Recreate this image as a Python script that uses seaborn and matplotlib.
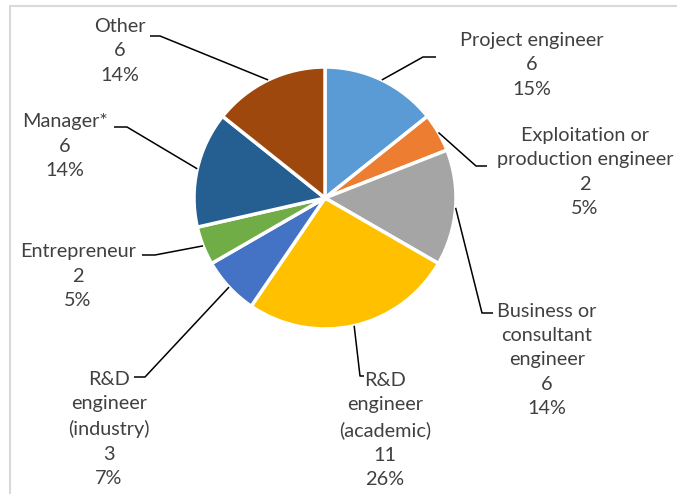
import numpy as np
import matplotlib; matplotlib.use('Agg')
import matplotlib.pyplot as plt
import seaborn as sns

W, H = 677, 494

# data (clockwise from 12 o'clock)
categories = ["Project engineer", "Exploitation or\nproduction engineer", "Business or\nconsultant\nengineer",
              "R&D\nengineer\n(academic)", "R&D\nengineer\n(industry)", "Entrepreneur", "Manager*", "Other"]
counts = [6, 2, 6, 11, 3, 2, 6, 6]
pct_labels = ["15%", "5%", "14%", "26%", "7%", "5%", "14%", "14%"]
colors = ["#5B9BD5", "#ED7D31", "#A5A5A5", "#FFC000", "#4472C4", "#70AD47", "#255E91", "#9E480E"]

# label layout in pixel coords (text centre, elbow, stub end)
label_pos = [(532, 65), (585, 172), (547, 360), (385, 430), (109, 429), (78, 276), (65, 146), (120, 51)]
elbows = [(423, 57), (476, 166), (482, 313), (360, 376), (145, 377), (155, 255), (127, 127), (160, 36)]
stubs = [(436, 57), (487, 166), (493, 313), (364, 376), (134, 377), (142, 255), (114, 127), (150, 36)]

sns.set_theme(style="white")
plt.rcParams['font.family'] = ['Lato', 'DejaVu Sans']

fig = plt.figure(figsize=(W / 100, H / 100), dpi=100)
ax = fig.add_axes([0, 0, 1, 1])

cx, cy, r = 325, H - 198, 131
wedges, _ = ax.pie(counts, colors=colors, startangle=90, counterclock=False,
                   center=(cx, cy), radius=r,
                   wedgeprops=dict(edgecolor='white', linewidth=2.5))
ax.set_xlim(0, W); ax.set_ylim(0, H)
ax.set_aspect('equal'); ax.axis('off')

for w, cat, n, p, (tx, ty), (ex, ey), (sx, sy) in zip(wedges, categories, counts, pct_labels,
                                                      label_pos, elbows, stubs):
    mid = np.deg2rad((w.theta1 + w.theta2) / 2)
    px, py = cx + r * np.cos(mid), cy + r * np.sin(mid)
    ax.plot([px, ex, sx], [py, H - ey, H - sy], color='black', lw=1.1, solid_capstyle='butt')
    ax.text(tx, H - ty, f"{cat}\n{n}\n{p}", ha='center', va='center', multialignment='center',
            fontsize=14.3, color='#404040', linespacing=1.53)

# chart area border (cropped at right/bottom)
fig.add_artist(plt.Rectangle((10 / W, -0.1), 1.2, (H - 6) / H + 0.1, transform=fig.transFigure,
                             fill=False, edgecolor='#D9D9D9', lw=1.5, clip_on=False))

plt.savefig("out.png", dpi=100)
